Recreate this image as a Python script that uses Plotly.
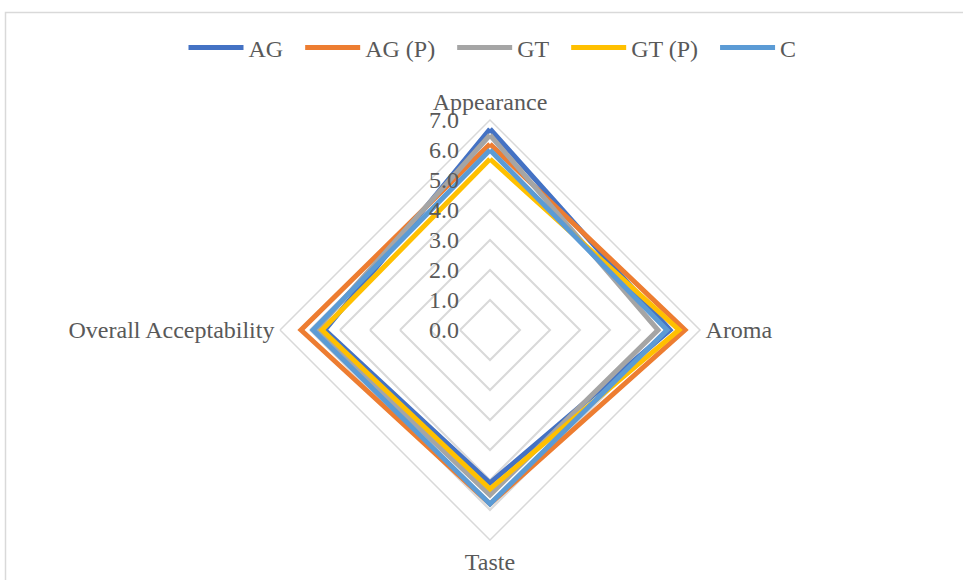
import plotly.graph_objects as go

# Sensory attributes (clockwise from the top)
categories = ["Appearance", "Aroma", "Taste", "Overall Acceptability"]

# Mean panel scores per sample
ag = [6.7, 6.0, 5.1, 5.5]
ag_p = [6.2, 6.5, 5.8, 6.3]
gt = [6.5, 5.6, 5.5, 5.8]
gt_p = [5.7, 6.3, 5.3, 5.6]
c = [6.0, 5.9, 5.8, 5.9]

series_names = ["AG", "AG (P)", "GT", "GT (P)", "C"]
series_values = [ag, ag_p, gt, gt_p, c]
series_colors = ["#4472C4", "#ED7D31", "#A5A5A5", "#FFC000", "#5B9BD5"]

radial_ticks = [0, 1, 2, 3, 4, 5, 6, 7]

W, H = 963, 580
FONT = "Liberation Serif, Times New Roman, serif"
FS = 24
TEXT = "#595959"
GRID = "#D9D9D9"
PAD = "\u00a0\u00a0"  # extra spacing between legend entries

fig = go.Figure()
for i, (name, vals, col) in enumerate(zip(series_names, series_values, series_colors)):
    label = name if i == len(series_names) - 1 else name + PAD
    fig.add_trace(go.Scatterpolar(
        r=vals + vals[:1],
        theta=categories + categories[:1],
        mode="lines",
        name=label,
        line=dict(color=col, width=5),
    ))

# plot area: centre (490, 330), outer radius 210 px
cx, cy, rad = 490, 330, 210
fig.update_layout(
    width=W, height=H,
    margin=dict(l=0, r=0, t=0, b=0),
    paper_bgcolor="white",
    font=dict(family=FONT, size=FS, color=TEXT),
    showlegend=True,
    legend=dict(
        orientation="h", x=0.5 + 11 / W, xanchor="center",
        y=1 - 48 / H, yanchor="middle",
        font=dict(family=FONT, size=FS, color=TEXT),
        itemwidth=55, bgcolor="rgba(0,0,0,0)",
    ),
    polar=dict(
        domain=dict(x=[(cx - 2 * rad) / W, (cx + 2 * rad) / W],
                    y=[1 - (cy + rad) / H, 1 - (cy - rad) / H]),
        bgcolor="white",
        gridshape="linear",
        angularaxis=dict(
            rotation=90, direction="clockwise",
            showgrid=False, showline=True, linecolor=GRID, linewidth=1.5,
            ticks="", tickfont=dict(family=FONT, size=FS, color=TEXT),
        ),
        radialaxis=dict(
            range=[0, 7], tickvals=radial_ticks, tickformat=".1f",
            angle=90, tickangle=90, side="counterclockwise",
            showline=False, ticks="outside", ticklen=22,
            tickcolor="rgba(0,0,0,0)",
            gridcolor=GRID, gridwidth=1.5,
            tickfont=dict(family=FONT, size=FS, color=TEXT),
        ),
    ),
    shapes=[dict(type="rect", xref="paper", yref="paper",
                 x0=5.5 / W, x1=1.05, y0=-0.05, y1=1 - 12.5 / H,
                 line=dict(color=GRID, width=1.5), fillcolor="rgba(0,0,0,0)",
                 layer="below")],
)

fig.write_html("out.html")
